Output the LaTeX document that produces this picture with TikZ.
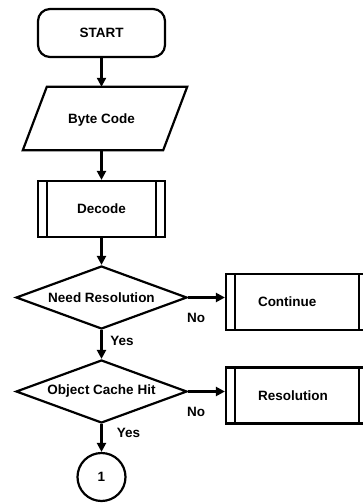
\documentclass[tikz,border=0pt]{standalone}
\usepackage{fontspec}
\setmainfont{Liberation Sans}
\usetikzlibrary{shapes.geometric,arrows.meta,calc}

\tikzset{
  base/.style={draw, line width=2.2pt, font=\bfseries\fontsize{13.5}{15}\selectfont, inner sep=0pt},
  terminal/.style={base, rectangle, rounded corners=12pt, minimum width=127pt, minimum height=48pt},
  iobox/.style={font=\bfseries\fontsize{13.5}{15}\selectfont, inner sep=0pt, minimum width=164pt, minimum height=63pt},
  subproc/.style={base, rectangle, minimum width=#1, minimum height=56pt,
    path picture={
      \draw[line width=2.2pt] ([xshift=9pt]path picture bounding box.north west) -- ([xshift=9pt]path picture bounding box.south west);
      \draw[line width=2.2pt] ([xshift=-9pt]path picture bounding box.north east) -- ([xshift=-9pt]path picture bounding box.south east);
    }},
  sidebox/.style={subproc=142pt, align=left, inner xsep=32pt, text width=78pt},
  decision/.style={base, diamond, aspect=2.714, minimum width=171pt, minimum height=63pt},
  connector/.style={base, circle, minimum size=48pt},
  flow/.style={line width=2.2pt, -{Triangle[length=9pt,width=9pt]}},
  lbl/.style={font=\bfseries\fontsize{13.5}{15}\selectfont, inner sep=0pt}
}

\begin{document}
\begin{tikzpicture}[x=1pt,y=-1pt]
  \useasboundingbox (0,0) rectangle (363,503);

  \node[terminal] (start) at (101.5,33) {START};

  \node[iobox] (bc) at (105,118.5) {};
  \node[lbl] (bctext) at (101.5,120) {Byte Code};
  \draw[line width=2.2pt, line join=miter]
    ([xshift=24pt]bc.north west) -- (bc.north east)
    -- ([xshift=-24pt]bc.south east) -- (bc.south west) -- cycle;

  \node[subproc=127pt] (dec) at (101.5,209) {Decode};

  \node[decision] (nr) at (101.5,297.5) {Need Resolution};
  \node[sidebox] (cont) at (297,302) {Continue};

  \node[decision] (och) at (101.5,391.5) {Object Cache Hit};
  \node[sidebox] (res) at (297,395.5) {Resolution};

  \node[connector] (c1) at (101.5,477) {1};

  % connectors
  \draw[flow] (start) -- (start |- bc.north);
  \draw[flow] (start |- bc.south) -- (dec);
  \draw[flow] (dec) -- (nr);
  \draw[flow] (nr.east) -- (nr.east -| cont.west);
  \draw[flow] (nr) -- (och);
  \draw[flow] (och.east) -- (och.east -| res.west);
  \draw[flow] (och) -- (c1);

  % branch labels
  \node[lbl] (no1) at (196,318) {No};
  \node[lbl] (yes1) at (122,341) {Yes};
  \node[lbl] (no2) at (196,412) {No};
  \node[lbl] (yes2) at (128.5,433) {Yes};
\end{tikzpicture}
\end{document}
